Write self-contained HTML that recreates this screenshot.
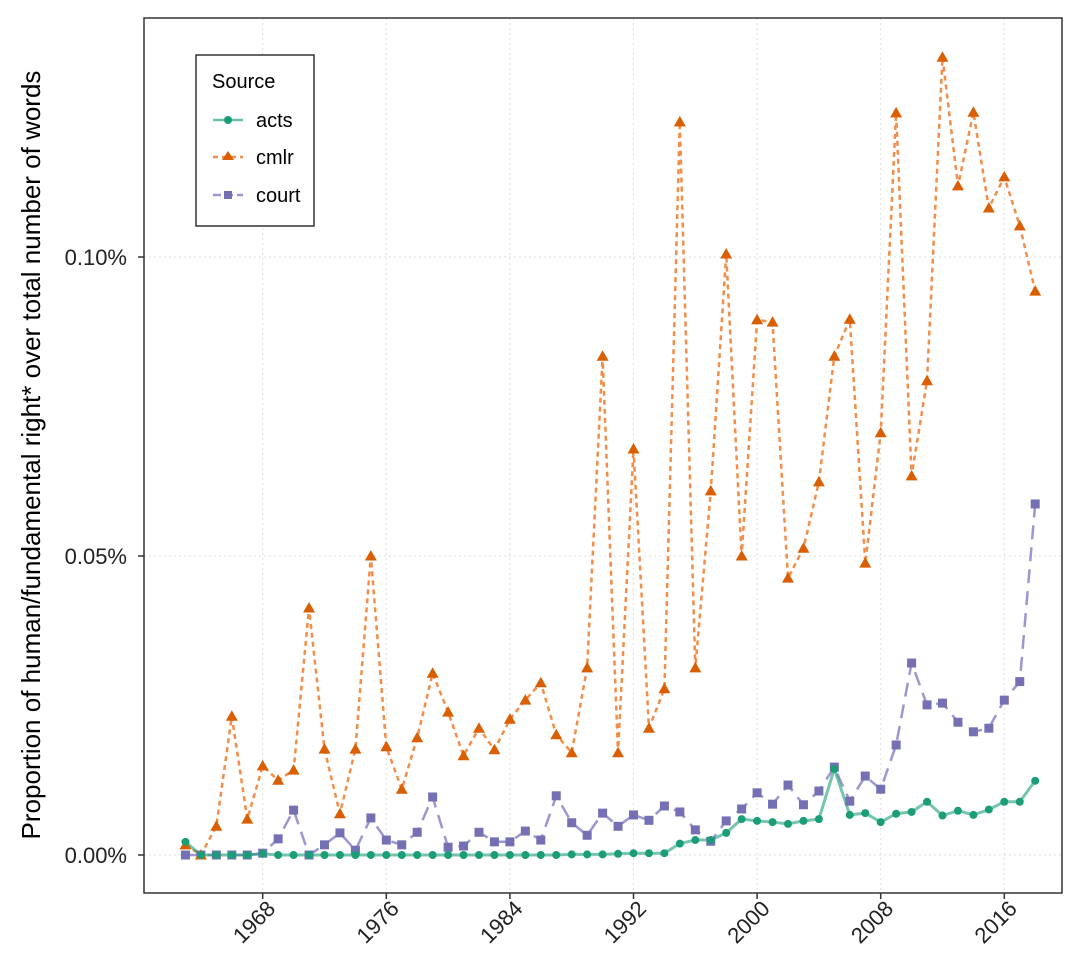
<!DOCTYPE html>
<html><head><meta charset="utf-8"><style>
body{margin:0;background:#fff;font-family:"Liberation Sans",sans-serif;}
svg{display:block}
</style></head><body>
<svg id="chart" width="1081" height="964" xmlns="http://www.w3.org/2000/svg">
<g id="grid"></g>
<g id="series"></g>
<rect x="144" y="18" width="918" height="875" fill="none" stroke="#333" stroke-width="1.5"/>
<g id="axes"></g>
<text transform="translate(40,455) rotate(-90)" text-anchor="middle" font-size="26" fill="#000">Proportion of human/fundamental right* over total number of words</text>
<g>
<rect x="196" y="55" width="118" height="171" fill="#fff" stroke="#333" stroke-width="1.5"/>
<text x="212" y="88" font-size="20" fill="#000">Source</text>
<g>
<line x1="213" y1="120" x2="243" y2="120" stroke="#1b9e77" stroke-width="2.5" stroke-opacity="0.65"/>
<circle cx="228" cy="120" r="4" fill="#1b9e77"/>
<text x="256" y="127" font-size="20" fill="#000">acts</text></g>
<g>
<line x1="213" y1="157" x2="243" y2="157" stroke="#f28e4a" stroke-width="2.5" stroke-dasharray="5,4"/>
<path d="M228,151 L234,160 L222,160 Z" fill="#d95f02"/>
<text x="256" y="164" font-size="20" fill="#000">cmlr</text></g>
<g>
<line x1="213" y1="195" x2="243" y2="195" stroke="#9c97d1" stroke-width="2.5" stroke-dasharray="8,4"/>
<rect x="224" y="191" width="8" height="8" fill="#7570b3"/>
<text x="256" y="202" font-size="20" fill="#000">court</text></g>
</g>
</svg>
<script>
const years = [];
for (let y = 1963; y <= 2018; y++) years.push(y);
const acts = [0.0022,0,0,0,0,0.0002,0,0,0,0,0,0,0,0,0,0,0,0,0,0,0,0,0,0,0,0.0001,0.0001,0.0001,0.0002,0.0003,0.0003,0.0003,0.0019,0.0025,0.0025,0.0037,0.006,0.0057,0.0055,0.0052,0.0057,0.006,0.0144,0.0067,0.007,0.0055,0.0069,0.0072,0.0089,0.0066,0.0074,0.0067,0.0076,0.0089,0.0089,0.0124];
const cmlr = [0.0017,0,0.0048,0.0232,0.006,0.0149,0.0125,0.0142,0.0413,0.0177,0.0069,0.0177,0.05,0.0181,0.011,0.0196,0.0304,0.0239,0.0166,0.0212,0.0176,0.0227,0.0259,0.0288,0.0201,0.0171,0.0313,0.0834,0.0171,0.0679,0.0212,0.0278,0.1226,0.0313,0.0609,0.1005,0.05,0.0895,0.0891,0.0463,0.0513,0.0624,0.0834,0.0896,0.0488,0.0706,0.1241,0.0634,0.0793,0.1334,0.1119,0.1242,0.1082,0.1134,0.1052,0.0943];
const court = [0,0,0,0,0,0.0003,0.0027,0.0075,0,0.0017,0.0037,0.0008,0.0062,0.0025,0.0017,0.0038,0.0097,0.0013,0.0015,0.0038,0.0022,0.0022,0.004,0.0025,0.0099,0.0054,0.0033,0.007,0.0048,0.0067,0.0058,0.0082,0.0072,0.0042,0.0023,0.0057,0.0077,0.0104,0.0085,0.0117,0.0084,0.0107,0.0147,0.009,0.0132,0.011,0.0184,0.0321,0.0251,0.0254,0.0222,0.0206,0.0212,0.0259,0.029,0.0587];
const yTicks = [0, 0.05, 0.1];
const yTickLabels = ["0.00%", "0.05%", "0.10%"];
const xTicks = [1968, 1976, 1984, 1992, 2000, 2008, 2016];

const NS = "http://www.w3.org/2000/svg";
const xs = y => 262.7 + (y - 1968) * 15.45;
const ys = v => 855 - v * 5980;
function mk(tag, attrs, parent) {
  const e = document.createElementNS(NS, tag);
  for (const k in attrs) e.setAttribute(k, attrs[k]);
  parent.appendChild(e);
  return e;
}
const grid = document.getElementById('grid');
const axes = document.getElementById('axes');
const ser = document.getElementById('series');
yTicks.forEach((t, i) => {
  const g = mk('line', {x1:144, x2:1062, y1:ys(t), y2:ys(t), stroke:'#ddd', 'stroke-width':1, 'stroke-dasharray':'2,3'}, grid);
  
  
  const tk = mk('line', {x1:138, x2:144, y1:ys(t), y2:ys(t), stroke:'#333', 'stroke-width':1.5}, axes);
  
  
  const tx = mk('text', {x:127, y:ys(t) + 8, 'text-anchor':'end', 'font-size':22, fill:'#222'}, axes);
  tx.textContent = yTickLabels[i];
  
  
});
xTicks.forEach(t => {
  const g = mk('line', {x1:xs(t), x2:xs(t), y1:18, y2:893, stroke:'#ddd', 'stroke-width':1, 'stroke-dasharray':'2,3'}, grid);
  
  
  const tk = mk('line', {x1:xs(t), x2:xs(t), y1:893, y2:899, stroke:'#333', 'stroke-width':1.5}, axes);
  
  
  const tx = mk('text', {transform:`translate(${xs(t)+14},${910}) rotate(-45)`, 'text-anchor':'end', 'font-size':22, fill:'#222'}, axes);
  tx.textContent = t;
  
  
});
function pts(arr){ return arr.map((v,i)=>xs(years[i]).toFixed(1)+','+ys(v).toFixed(1)).join(' '); }
const lc = mk('polyline', {points:pts(court), fill:'none', stroke:'#9c97d1', 'stroke-width':2.5, 'stroke-dasharray':'14,8'}, ser);


const lm = mk('polyline', {points:pts(cmlr), fill:'none', stroke:'#f28e4a', 'stroke-width':2.5, 'stroke-dasharray':'5,4'}, ser);


const la = mk('polyline', {points:pts(acts), fill:'none', stroke:'#1b9e77', 'stroke-opacity':0.6, 'stroke-width':3}, ser);


court.forEach((v,i)=>{
  const r = mk('rect', {x:xs(years[i])-4.5, y:ys(v)-4.5, width:9, height:9, fill:'#7570b3'}, ser);
  
  
});
cmlr.forEach((v,i)=>{
  const x = xs(years[i]), y = ys(v);
  const p = mk('path', {d:`M${x},${y-6} L${x+6},${y+4.5} L${x-6},${y+4.5} Z`, fill:'#d95f02'}, ser);
  
  
});
acts.forEach((v,i)=>{
  const c = mk('circle', {cx:xs(years[i]), cy:ys(v), r:4, fill:'#1b9e77'}, ser);
  
  
});
</script>
</body></html>
